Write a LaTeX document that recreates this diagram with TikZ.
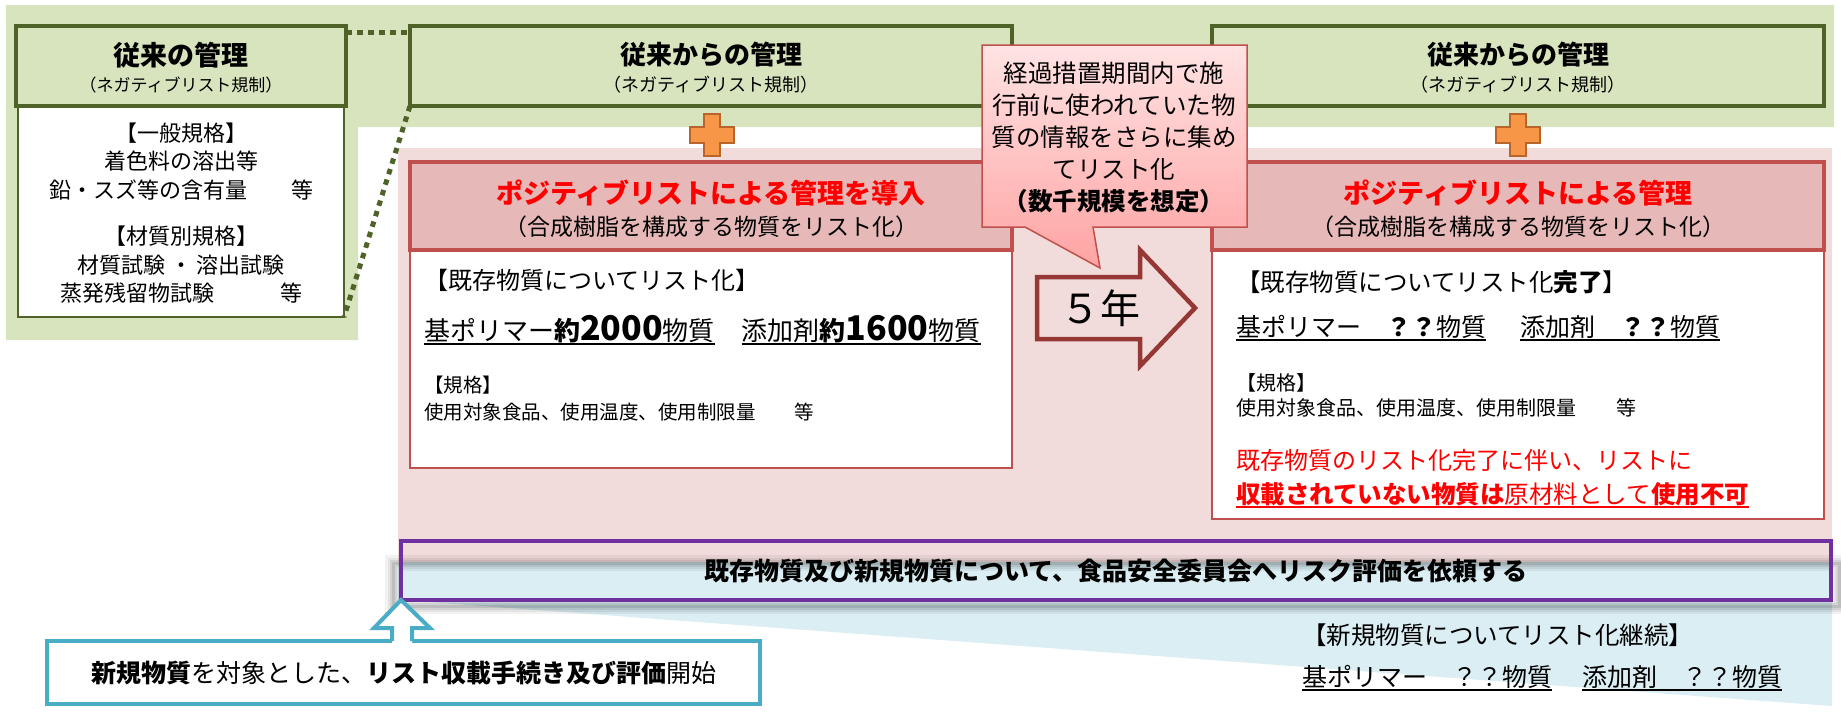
\documentclass[tikz,border=0pt]{standalone}
\usepackage{fontspec}
\setmainfont{Noto Sans CJK JP}
\usetikzlibrary{calc}
\definecolor{bandgreen}{HTML}{D7E4BD}
\definecolor{dkgreen}{HTML}{4F6228}
\definecolor{pinkbg}{HTML}{F2DCDB}
\definecolor{redfill}{HTML}{E6B9B8}
\definecolor{redline}{HTML}{C0504D}
\definecolor{plusfill}{HTML}{F79646}
\definecolor{plusline}{HTML}{B7652B}
\definecolor{arrowline}{HTML}{953735}
\definecolor{purp}{HTML}{7030A0}
\definecolor{bluebg}{HTML}{DAEEF3}
\definecolor{blueline}{HTML}{4BACC6}
\definecolor{callouttop}{HTML}{FFE3E3}
\definecolor{calloutbot}{HTML}{FFA3A3}
\definecolor{pured}{HTML}{FF0000}
\newcommand\FS[2]{\fontsize{#1}{#2}\selectfont}
\newcommand\myul[1]{\setbox0\hbox{#1}\rlap{\rule[-4.5pt]{\wd0}{1.6pt}}\box0}
\tikzset{
  box/.style={anchor=north west, outer sep=0pt, inner sep=0pt},
  greenhead/.style={box, draw=dkgreen, line width=4.5pt, fill=bandgreen, minimum height=80pt},
  greenbody/.style={box, draw=dkgreen, line width=1.5pt, fill=white},
  redhead/.style={box, draw=redline, line width=4pt, fill=redfill, minimum height=88pt},
  redbody/.style={box, draw=redline, line width=1.5pt, fill=white},
  dotline/.style={draw=dkgreen, line width=5pt, dash pattern=on 5.5pt off 5.5pt},
  txt/.style={inner sep=0pt, outer sep=0pt, align=center},
  ltxt/.style={inner sep=0pt, outer sep=0pt, anchor=west},
  plusshape/.style={draw=plusline, line width=2.5pt, fill=plusfill, line join=miter},
}
\begin{document}
\begin{tikzpicture}[x=1pt,y=-1pt]
\useasboundingbox (0,0) rectangle (1841,721);
% backgrounds
\fill[bandgreen] (6,5) -- (1834,5) -- (1834,127) -- (358,127) -- (358,340) -- (6,340) -- cycle;
\fill[pinkbg] (398,148) rectangle (1832,562);
\fill[bluebg] (398,562) -- (1832,562) -- (1832,706) -- (401,600) -- (398,600) -- cycle;
% shadow of the purple band
\foreach \w/\o in {16/0.05,11/0.06,7/0.08,3/0.1}
  \draw[black, opacity=\o, line width=\w pt] (393,563) rectangle (1839,606);
% left column
\node[greenbody, minimum width=326pt, minimum height=211pt] (lbody) at (18,106) {};
\node[greenhead, minimum width=330pt] (lhead) at (16,26) {};
% middle and right headers
\node[greenhead, minimum width=602pt] (mhead) at (410,26) {};
\node[greenhead, minimum width=612pt] (rhead) at (1212,26) {};
% dotted connectors
\draw[dotline] ([yshift=-6pt]lhead.north east) -- ([yshift=-6pt]mhead.north west);
\draw[dotline] (mhead.south west) -- (lbody.south east);
% plus signs
\foreach \cx in {712,1518}{
  \draw[plusshape] (\cx-8,114) -- (\cx+8,114) -- (\cx+8,127) -- (\cx+22,127) -- (\cx+22,143)
    -- (\cx+8,143) -- (\cx+8,156) -- (\cx-8,156) -- (\cx-8,143) -- (\cx-22,143)
    -- (\cx-22,127) -- (\cx-8,127) -- cycle;
}
% middle and right boxes
\node[redbody, minimum width=602pt, minimum height=218pt] (mbody) at (410,250) {};
\node[redhead, minimum width=602pt] (mred) at (410,162) {};
\node[redbody, minimum width=612pt, minimum height=269pt] (rbody) at (1212,250) {};
\node[redhead, minimum width=612pt] (rred) at (1212,162) {};
% 5 years arrow
\draw[arrowline, line width=4.5pt, fill=pinkbg, line join=miter]
  (1037,277) -- (1140,277) -- (1140,250) -- (1195,308) -- (1140,366) -- (1140,339) -- (1037,339) -- cycle;
\node[txt, font=\FS{40}{40}] (five) at (1100,308) {５年};
% callout
\draw[redline, line width=1.5pt, top color=callouttop, bottom color=calloutbot]
  (982,45) -- (1247,45) -- (1247,227) -- (1093,227) -- (1100,268) -- (1025,227) -- (982,227) -- cycle;
\node[txt, font=\FS{24.5}{32}] (callt) at (1114,137) {経過措置期間内で施\\行前に使われていた物\\質の情報をさらに集め\\てリスト化\\\textbf{（数千規模を想定）}};
% purple band
\node[box, draw=purp, line width=4pt, minimum width=1430pt, minimum height=59pt] (risk) at (401,541) {};
\node[txt, font=\FS{25}{25}] (riskt) at (risk.center) {\textbf{既存物質及び新規物質について、食品安全委員会へリスク評価を依頼する}};
% new substances box and arrow
\node[box, draw=blueline, line width=4pt, fill=white, minimum width=713pt, minimum height=63pt] (newbox) at (47,641) {};
\node[txt, font=\FS{25}{25}] (newt) at (newbox.center) {\textbf{新規物質}を対象とした、\textbf{リスト収載手続き及び評価}開始};
\coordinate (uptip) at (risk.south west);
\fill[white] (392,643) -- (392,628) -- (374,628) -- (uptip) -- (430,628) -- (412,628) -- (412,643) -- cycle;
\draw[blueline, line width=4pt, line join=miter] (392,641) -- (392,628) -- (374,628) -- (uptip) -- (430,628) -- (412,628) -- (412,641);
% left texts
\node[txt, font=\FS{27}{27}] (lt1) at (181,55) {\textbf{従来の管理}};
\node[txt, font=\FS{17}{17}] (lt2) at (181,85) {（ネガティブリスト規制）};
\node[txt, font=\FS{22}{28.5}] (lt3) at (181,161.5) {【一般規格】\\着色料の溶出等\\鉛・スズ等の含有量　　等};
\node[txt, font=\FS{22}{28.5}] (lt4) at (181,265) {【材質別規格】\\材質試験 ・ 溶出試験\\蒸発残留物試験　　　等};
% middle texts
\node[txt, font=\FS{26}{26}] (mt1) at (711,55) {\textbf{従来からの管理}};
\node[txt, font=\FS{18}{18}] (mt2) at (711,85) {（ネガティブリスト規制）};
\node[txt, font=\FS{27}{27}, text=pured] (mt3) at (711,193) {\textbf{ポジティブリストによる管理を導入}};
\node[txt, font=\FS{23}{23}] (mt4) at (711,227) {（合成樹脂を構成する物質をリスト化）};
\node[ltxt, font=\FS{24}{24}] (mt5) at (424,280) {【既存物質についてリスト化】};
\node[ltxt, font=\FS{26}{26}] (mt6) at (424,330) {\myul{基ポリマー\textbf{約}{\FS{34}{34}\textbf{2000}}物質}\hspace{27pt}\myul{添加剤\textbf{約}{\FS{34}{34}\textbf{1600}}物質}};
\node[ltxt, font=\FS{19.5}{19.5}] (mt7) at (424,385) {【規格】};
\node[ltxt, font=\FS{19.5}{19.5}] (mt8) at (424,412) {使用対象食品、使用温度、使用制限量　　等};
% right texts
\node[txt, font=\FS{26}{26}] (rt1) at (1518,55) {\textbf{従来からの管理}};
\node[txt, font=\FS{18}{18}] (rt2) at (1518,85) {（ネガティブリスト規制）};
\node[txt, font=\FS{27}{27}, text=pured] (rt3) at (1518,193) {\textbf{ポジティブリストによる管理}};
\node[txt, font=\FS{23}{23}] (rt4) at (1518,227) {（合成樹脂を構成する物質をリスト化）};
\node[ltxt, font=\FS{24.5}{24.5}] (rt5) at (1236,282) {【既存物質についてリスト化\textbf{完了}】};
\node[ltxt, font=\FS{25}{25}] (rt6) at (1236,328) {\myul{基ポリマー　\textbf{？？}物質}\hspace{34pt}\myul{添加剤　\textbf{？？}物質}};
\node[ltxt, font=\FS{20}{20}] (rt7) at (1236,383) {【規格】};
\node[ltxt, font=\FS{20}{20}] (rt8) at (1236,408) {使用対象食品、使用温度、使用制限量　　等};
\node[ltxt, font=\FS{24}{24}, text=pured] (rt9) at (1236,460) {既存物質のリスト化完了に伴い、リストに};
\node[ltxt, font=\FS{24.5}{24.5}, text=pured] (rt10) at (1236,495) {\myul{\textbf{収載されていない物質は}原材料として\textbf{使用不可}}};
% new-substance list texts
\node[ltxt, font=\FS{24.5}{24.5}] (bt1) at (1302,635) {【新規物質についてリスト化継続】};
\node[ltxt, font=\FS{25}{25}] (bt2) at (1302,678) {\myul{基ポリマー　？？物質}\hspace{30pt}\myul{添加剤　？？物質}};
\end{tikzpicture}
\end{document}
